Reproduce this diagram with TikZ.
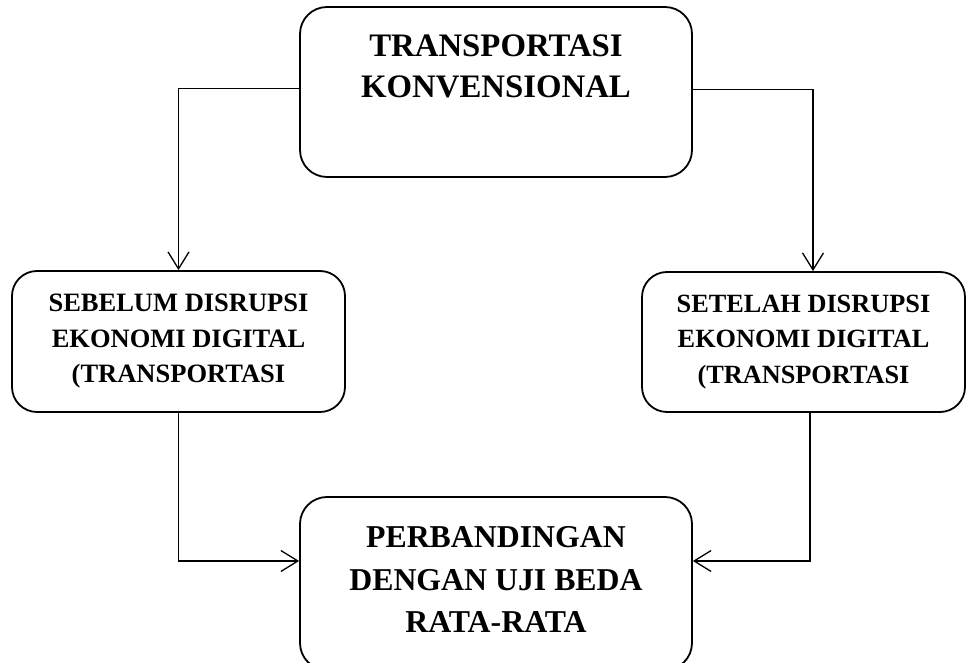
\documentclass[tikz,border=0pt]{standalone}
\usepackage{fontspec}
\setmainfont{Liberation Serif}
\usetikzlibrary{arrows.meta}
\begin{document}
\begin{tikzpicture}[x=1pt,y=1pt,
  box/.style={draw=black,line width=1.8pt,rounded corners=27pt,inner sep=0pt},
  conn/.style={draw=black,line width=1.3pt,-{Straight Barb[length=17pt,width=21pt,line width=1.3pt]}},
  lbl/.style={align=center,inner sep=0pt}]
\useasboundingbox (0,0) rectangle (967,662);
\clip (0,0) rectangle (967,662);
\fill[white] (0,0) rectangle (967,662);
% boxes
\node[box,minimum width=392pt,minimum height=170pt] (top) at (496,570) {};
\node[lbl,font=\fontsize{32.8}{41.5}\selectfont\bfseries] (toptext) at (496,595.5) {TRANSPORTASI\\KONVENSIONAL};
\node[box,lbl,minimum width=333pt,minimum height=141pt,rounded corners=25pt,
  font=\fontsize{26.5}{35.5}\selectfont\bfseries] (left) at (178.5,320.5)
  {SEBELUM DISRUPSI\\EKONOMI DIGITAL\\(TRANSPORTASI};
\node[box,lbl,minimum width=323pt,minimum height=140pt,rounded corners=25pt,
  font=\fontsize{26.3}{35.5}\selectfont\bfseries] (right) at (803.5,320)
  {SETELAH DISRUPSI\\EKONOMI DIGITAL\\(TRANSPORTASI};
\node[box,minimum width=392pt,minimum height=173pt] (bot) at (496,78.5) {};
\node[lbl,font=\fontsize{31.8}{42.5}\selectfont\bfseries] (bottext) at (496,82.5) {PERBANDINGAN\\DENGAN UJI BEDA\\RATA-RATA};
% connectors
\draw[conn] ([yshift=3.5pt]top.west) -| (left.north);
\draw[conn] ([yshift=2.5pt]top.east) -| ([xshift=9.5pt]right.north);
\draw[conn] (left.south) |- ([yshift=22.5pt]bot.west);
\draw[conn] ([xshift=6.5pt]right.south) |- ([yshift=22.5pt]bot.east);
\end{tikzpicture}
\end{document}
